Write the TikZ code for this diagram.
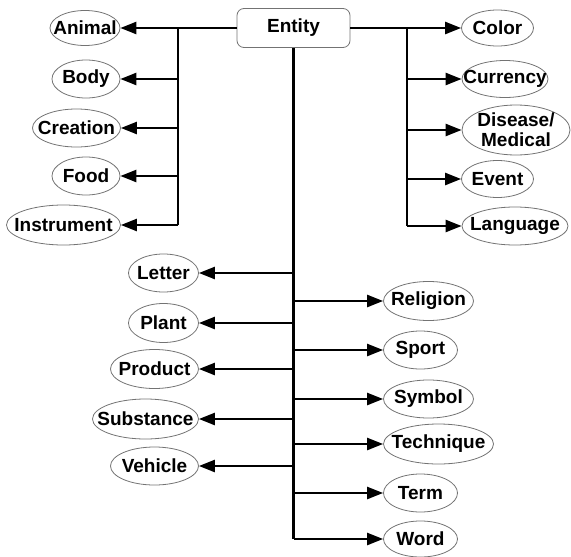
\documentclass[tikz,border=0pt]{standalone}
\usepackage{fontspec}
\setmainfont{Liberation Sans}
\usetikzlibrary{arrows.meta,shapes.geometric}
\begin{document}
\begin{tikzpicture}[x=1pt,y=-1pt,
  lbl/.style={font=\bfseries\fontsize{19}{20}\selectfont,align=center,inner sep=0pt},
  cat/.style={ellipse,draw=black!55,line width=0.8pt,inner sep=0pt,
    label={[lbl]center:#1}},
  link/.style={line width=2.5pt,-{Triangle[length=16pt,width=12pt]}},
  bar/.style={line width=2.5pt}]
\useasboundingbox (0,0) rectangle (571,557);

% root
\node[draw=black!55,line width=0.8pt,rounded corners=7pt,minimum width=113pt,
  minimum height=39pt,inner sep=0pt,lbl]
  (entity) at (293.5,28) {Entity};

% upper left group
\node[cat=Animal,minimum width=70pt,minimum height=35pt] (animal) at (85,28) {};
\node[cat=Body,minimum width=68pt,minimum height=38pt] (body) at (86,79) {};
\node[cat=Creation,minimum width=88pt,minimum height=38pt] (creation) at (76.5,128) {};
\node[cat=Food,minimum width=68pt,minimum height=38pt] (food) at (86,176) {};
\node[cat=Instrument,minimum width=114pt,minimum height=40pt] (instrument) at (63.5,225) {};

% upper right group
\node[cat=Color,minimum width=72pt,minimum height=36pt] (color) at (497.5,28) {};
\node[cat=Currency,minimum width=86pt,minimum height=37pt] (currency) at (505,79) {};
\node[cat={Disease/\\Medical},minimum width=108pt,minimum height=50pt] (disease) at (516,130) {};
\node[cat=Event,minimum width=72pt,minimum height=37pt] (event) at (497.5,179) {};
\node[cat=Language,minimum width=106pt,minimum height=38pt] (language) at (515,226) {};

% lower left group
\node[cat=Letter,minimum width=70pt,minimum height=38pt] (letter) at (163.5,273) {};
\node[cat=Plant,minimum width=70pt,minimum height=39pt] (plant) at (163.5,323) {};
\node[cat=Product,minimum width=88pt,minimum height=39pt] (product) at (154.5,369) {};
\node[cat=Substance,minimum width=106pt,minimum height=40pt] (substance) at (145.5,419) {};
\node[cat=Vehicle,minimum width=88pt,minimum height=38pt] (vehicle) at (154.5,466) {};

% lower right group
\node[cat=Religion,minimum width=90pt,minimum height=39pt] (religion) at (428.5,301) {};
\node[cat=Sport,minimum width=74pt,minimum height=38pt] (sport) at (420.5,350) {};
\node[cat=Symbol,minimum width=90pt,minimum height=38pt] (symbol) at (428.5,399) {};
\node[cat=Technique,minimum width=110pt,minimum height=40pt] (technique) at (438.5,444) {};
\node[cat=Term,minimum width=74pt,minimum height=38pt] (term) at (420.5,493) {};
\node[cat=Word,minimum width=74pt,minimum height=36pt] (word) at (420.5,539) {};

% junction points
\coordinate (lj) at (178,28);
\coordinate (rj) at (407,28);

% trunks
\draw[bar] (entity.west) -- (lj) -- (lj |- instrument);
\draw[bar] (entity.east) -- (rj) -- (rj |- language);
\draw[bar] (entity.south) -- (entity.south |- word);

% branches
\foreach \n in {animal,body,creation,food,instrument}
  \draw[link] (lj |- \n) -- (\n.east);
\foreach \n in {color,currency,disease,event,language}
  \draw[link] (rj |- \n) -- (\n.west);
\foreach \n in {letter,plant,product,substance,vehicle}
  \draw[link] (entity.south |- \n) -- (\n.east);
\foreach \n in {religion,sport,symbol,technique,term,word}
  \draw[link] (entity.south |- \n) -- (\n.west);
\end{tikzpicture}
\end{document}
